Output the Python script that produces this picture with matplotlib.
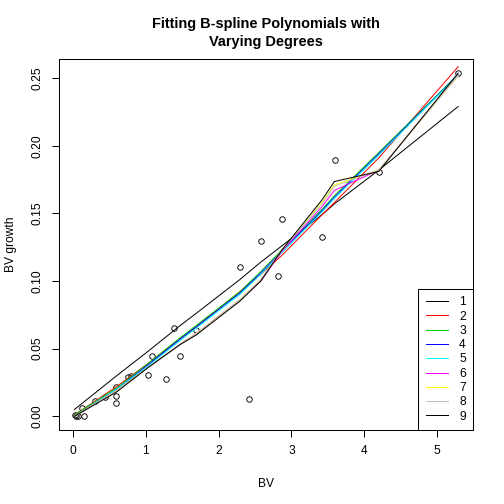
import matplotlib
matplotlib.use('Agg')
import matplotlib.pyplot as plt
import numpy as np

plt.rcParams['font.family'] = ['Liberation Sans', 'DejaVu Sans']

# ── Data ─────────────────────────────────────────────────────────────────────
bv = [0.023, 0.047, 0.069, 0.156, 0.124, 0.300, 0.435, 0.586, 0.586, 0.590,
      0.755, 0.801, 1.029, 1.080, 1.274, 1.386, 1.468, 1.687, 2.291, 2.424,
      2.579, 2.812, 2.867, 3.416, 3.594, 4.198, 5.287]
bv_growth = [0.0007, 0.0002, 0.0002, 0.0000, 0.0059, 0.0111, 0.0140, 0.0219,
             0.0153, 0.0096, 0.0287, 0.0300, 0.0308, 0.0443, 0.0278, 0.0655,
             0.0443, 0.0640, 0.1107, 0.0125, 0.1297, 0.1038, 0.1459, 0.1327,
             0.1895, 0.1806, 0.2537]

# fitted curves, sampled at the sorted BV values where they bend
fit_x = [0.02, 0.60, 1.03, 1.47, 1.69, 2.29, 2.58, 2.87, 3.42, 3.59, 4.20, 5.29]
fits = {
    1: [0.005, 0.030, 0.048, 0.067, 0.076, 0.101, 0.114, 0.126, 0.149, 0.157, 0.182, 0.229],
    2: [0.001, 0.022, 0.039, 0.057, 0.066, 0.092, 0.105, 0.119, 0.149, 0.158, 0.191, 0.2584],
    3: [0.001, 0.021, 0.039, 0.058, 0.067, 0.092, 0.107, 0.123, 0.153, 0.163, 0.195, 0.2527],
    4: [0.000, 0.020, 0.038, 0.057, 0.066, 0.091, 0.106, 0.122, 0.152, 0.162, 0.194, 0.2525],
    5: [0.000, 0.020, 0.037, 0.056, 0.065, 0.090, 0.105, 0.121, 0.151, 0.161, 0.193, 0.2523],
    6: [0.000, 0.019, 0.036, 0.053, 0.061, 0.086, 0.100, 0.122, 0.155, 0.167, 0.182, 0.2520],
    7: [0.000, 0.019, 0.036, 0.053, 0.061, 0.086, 0.101, 0.123, 0.158, 0.171, 0.182, 0.2518],
    8: [0.000, 0.019, 0.036, 0.053, 0.061, 0.086, 0.101, 0.123, 0.157, 0.170, 0.182, 0.2519],
    9: [0.000, 0.018, 0.036, 0.053, 0.060, 0.085, 0.100, 0.123, 0.160, 0.1735, 0.181, 0.2537],
}
line_colors = ['black', '#FF0000', '#00CD00', '#0000FF', '#00FFFF',
               '#FF00FF', '#FFFF00', '#BEBEBE', 'black']

# ── Figure ───────────────────────────────────────────────────────────────────
fig = plt.figure(figsize=(7, 7), dpi=72)
ax = fig.add_axes([0.1177, 0.1468, 0.8214, 0.7355])

ax.plot(bv, bv_growth, linestyle='none', marker='o', markersize=5.5,
        markerfacecolor='none', markeredgecolor='black', markeredgewidth=0.9,
        zorder=1)

for deg, col in zip(fits, line_colors):
    ax.plot(fit_x, fits[deg], color=col, linewidth=1.0, label=str(deg), zorder=2)

# R-style 4% padding around the points
xr = max(bv) - min(bv)
yr = max(bv_growth) - min(bv_growth)
ax.set_xlim(min(bv) - 0.04 * xr, max(bv) + 0.04 * xr)
ax.set_ylim(min(bv_growth) - 0.04 * yr, max(bv_growth) + 0.04 * yr)

ax.set_xticks(np.arange(0, 6, 1))
ax.set_yticks(np.arange(0, 0.26, 0.05))
ax.set_yticklabels([f'{v:.2f}' for v in np.arange(0, 0.26, 0.05)],
                   rotation=90, va='center')
ax.tick_params(direction='out', length=7, width=1, labelsize=12, pad=8)
ax.tick_params(axis='y', pad=9)
for s in ax.spines.values():
    s.set_linewidth(1)
    s.set_color('black')

ax.set_xlabel('BV', fontsize=12, labelpad=21)
ax.set_ylabel('BV growth', fontsize=12, labelpad=14)
ax.set_title('Fitting B-spline Polynomials with\nVarying Degrees',
             fontsize=14.5, fontweight='bold', pad=13, linespacing=1.4)

leg = ax.legend(loc='lower right', fontsize=12, frameon=True, fancybox=False,
                edgecolor='black', framealpha=1, borderaxespad=0,
                handlelength=1.9, handletextpad=0.9, labelspacing=0.19,
                borderpad=0.62)
leg.get_frame().set_linewidth(1)

fig.savefig('out.png', dpi=72)
